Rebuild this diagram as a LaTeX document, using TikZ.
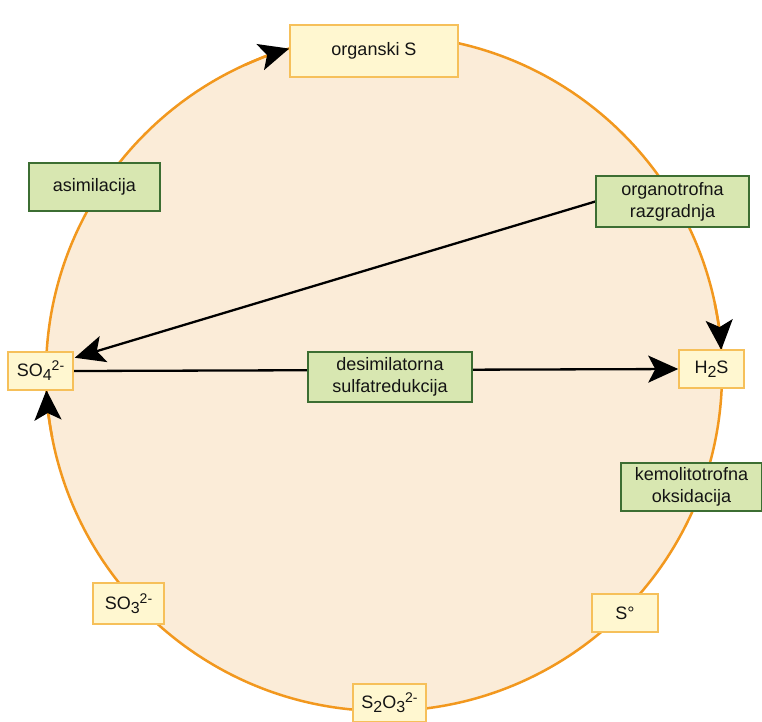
\documentclass[tikz,border=0pt]{standalone}
\usepackage{fontspec}
\setmainfont{Liberation Sans}
\usetikzlibrary{arrows.meta,calc}
\definecolor{peach}{RGB}{251,236,216}
\definecolor{ring}{RGB}{242,152,30}
\definecolor{ybox}{RGB}{255,247,208}
\definecolor{yline}{RGB}{246,192,90}
\definecolor{gbox}{RGB}{216,231,177}
\definecolor{gline}{RGB}{60,110,50}
\definecolor{ink}{RGB}{20,20,20}
\newcommand\chsub[1]{\raisebox{-4pt}{\fontsize{16}{16}\selectfont #1}}
\newcommand\chsup[1]{\raisebox{6pt}{\fontsize{14}{14}\selectfont #1}}
\pgfdeclarelayer{bg}
\pgfdeclarelayer{mid}
\pgfsetlayers{bg,mid,main}
\tikzset{
  bigtip/.style={-{Stealth[color=black,length=30pt,width=27pt,inset=7pt]}},
  ybx/.style={draw=yline,fill=ybox,line width=1.5pt,inner sep=0pt,text=ink,
    font=\fontsize{18}{22}\selectfont,align=center},
  gbx/.style={draw=gline,fill=gbox,line width=1.3pt,inner sep=0pt,text=ink,
    font=\fontsize{18}{22}\selectfont,align=center},
  arrline/.style={draw=black,line width=2.3pt,bigtip},
  ringarc/.style={draw=ring,line width=2.5pt,bigtip}
}
\begin{document}
\begin{tikzpicture}[x=1pt,y=-1pt]
\useasboundingbox (0,0) rectangle (762,721);
\coordinate (C) at (384,373);
% nodes
\node[ybx,minimum width=168pt,minimum height=52pt] (orgS) at (374,51) {organski S};
\node[ybx,minimum width=65pt,minimum height=38pt] (SO4) at (40.5,371) {SO\chsub{4}\chsup{2-}};
\node[ybx,minimum width=65pt,minimum height=38pt] (H2S) at (711.5,369) {H\chsub{2}S};
\node[ybx,minimum width=73pt,minimum height=38pt] (S2O3) at (389.5,703) {S\chsub{2}O\chsub{3}\chsup{2-}};
\node[ybx,minimum width=66pt,minimum height=38pt] (S0) at (625,613) {S°};
\node[ybx,minimum width=71pt,minimum height=41pt] (SO3) at (128.5,603.5) {SO\chsub{3}\chsup{2-}};
\node[gbx,minimum width=131pt,minimum height=48pt] (asim) at (94.5,187) {asimilacija};
\node[gbx,minimum width=153pt,minimum height=51pt] (orgraz) at (672.5,201.5) {organotrofna\\razgradnja};
\node[gbx,minimum width=164pt,minimum height=50pt] (desim) at (390,377) {desimilatorna\\sulfatredukcija};
\node[gbx,minimum width=141pt,minimum height=48pt] (kemo) at (691.5,487) {kemolitotrofna\\oksidacija};
\coordinate (SO4in) at ($(SO4.north east)+(1,6.5)$);
% background circle
\begin{pgfonlayer}{bg}
\fill[peach] (C) circle[radius=338];
\draw[ring,line width=2.5pt] (C) circle[radius=338];
\end{pgfonlayer}
% arrows
\begin{pgfonlayer}{mid}
\draw[ringarc] (C) ++(245.7:338) arc[start angle=245.7,end angle=253.7,radius=338];
\draw[ringarc] (C) ++(348.1:338) arc[start angle=348.1,end angle=356.1,radius=338];
\draw[ringarc] (C) ++(169.1:338) arc[start angle=169.1,end angle=177.1,radius=338];
\draw[arrline] (orgraz.west) -- (SO4in);
\draw[arrline] (SO4.east) -- (H2S.west);
\end{pgfonlayer}
\end{tikzpicture}
\end{document}
